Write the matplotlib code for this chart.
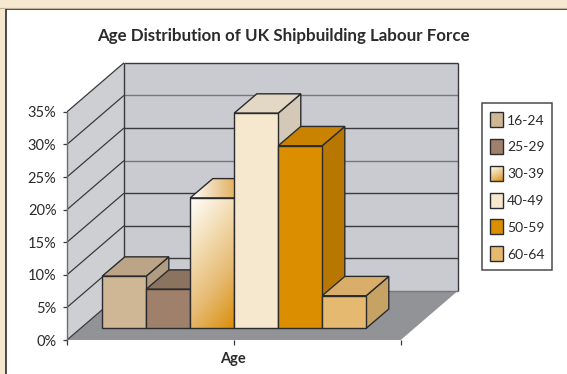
import numpy as np
import matplotlib
matplotlib.use("Agg")
import matplotlib.pyplot as plt
from matplotlib.patches import Polygon, Rectangle
from matplotlib.colors import LinearSegmentedColormap

plt.rcParams['font.family'] = ['Lato', 'DejaVu Sans']

title = "Age Distribution of UK Shipbuilding Labour Force"
xlabel = "Age"
categories = ["16-24", "25-29", "30-39", "40-49", "50-59", "60-64"]
values = [8, 6, 20, 33, 28, 5]
yticks = [0, 5, 10, 15, 20, 25, 30, 35]
front = ["#CFB695", "#9F806B", None, "#F5E8CF", "#DB8F00", "#E6B970"]
top = ["#BBA586", "#8B7360", None, "#E3D8C3", "#C98300", "#D9AE6A"]
side = ["#B09C80", "#7F6857", None, "#D3C9B6", "#B87700", "#C7A265"]
grid_cols = ["#77787B", "#3A3A3C", "#3A3A3C", "#3A3A3C", "#77787B", "#3A3A3C", "#77787B", "#3A3A3C"]

# geometry (pixels)
X0, X1, Y0 = 67.0, 400.7, 340.0
DX, DY = 57.0, 49.0
PX = 32.6 / 5
BAR0, BARW, BAR_BASE = 102.2, 44.0, 328.3
BDX, BDY = 22.6, 19.3

fig = plt.figure(figsize=(5.67, 3.74), dpi=100, facecolor="#F5E8CF")
ax = fig.add_axes([0, 0, 1, 1])
ax.set_axis_off()

def poly(pts, fc, ec="#2B2B2D", lw=1.0, z=2):
    p = Polygon(pts, closed=True, facecolor=fc, edgecolor=ec, linewidth=lw, zorder=z, joinstyle="miter")
    ax.add_patch(p)
    return p

def line(xs, ys, c="#3A3A3C", lw=1.0, z=1.5):
    ax.plot(xs, ys, color=c, lw=lw, zorder=z, solid_capstyle="butt")

def y_of(v):
    return Y0 - v * PX

# panel
ax.add_patch(Rectangle((6, 9), 570, 380, facecolor="white", edgecolor="#2B2B2D", lw=1.2, zorder=0))
ax.plot([0, 567], [8.2, 8.2], color="#BFB29A", lw=0.8, zorder=0)

# walls
vmax = yticks[-1]
poly([(X0 + DX, y_of(0) - DY), (X1 + DX, y_of(0) - DY), (X1 + DX, y_of(vmax) - DY), (X0 + DX, y_of(vmax) - DY)],
     "#C9CBD0", ec="none", z=1)
poly([(X0, y_of(0)), (X0 + DX, y_of(0) - DY), (X0 + DX, y_of(vmax) - DY), (X0, y_of(vmax))],
     "#CDCFD3", ec="none", z=1)
poly([(X0, y_of(0)), (X1, y_of(0)), (X1 + DX, y_of(0) - DY), (X0 + DX, y_of(0) - DY)],
     "#929397", ec="none", z=1.2)
for t, c in zip(yticks, grid_cols):
    y = y_of(t)
    line([X0 + DX, X1 + DX], [y - DY, y - DY], c=c)
    line([X0, X0 + DX], [y, y - DY], c="#3A3A3C", lw=0.9)
    line([X0 - 4, X0], [y, y], c="#3A3A3C", lw=0.9)
    ax.text(56.5, y + 1.6, f"{t}%", ha="right", va="center", fontsize=10.5, color="#2B2B2D")
line([X0, X0], [y_of(0) + 1, y_of(vmax)], c="#6D6E70")
line([X0 + DX, X0 + DX], [y_of(0) - DY, y_of(vmax) - DY], c="#3A3A3C")
line([X1 + DX, X1 + DX], [y_of(0) - DY, y_of(vmax) - DY], c="#3A3A3C")
for x in [X0, (X0 + X1) / 2, X1]:
    line([x, x], [Y0, Y0 + 4.7], c="#3A3A3C", lw=0.9)

# gradient helper
cm_front = LinearSegmentedColormap.from_list("f", ["#FFFFFF", "#F3DDB4", "#E6B970", "#D98F0A"])
cm_top = LinearSegmentedColormap.from_list("t", ["#FFFFFF", "#E9C48A", "#D9920F"])

def gradient(pts, cmap, z, diag=True):
    pts = np.array(pts)
    xa, xb, ya, yb = pts[:, 0].min(), pts[:, 0].max(), pts[:, 1].min(), pts[:, 1].max()
    u, w = np.meshgrid(np.linspace(0, 1, 128), np.linspace(0, 1, 128))
    g = 0.3 * u + 0.7 * w if diag else u
    im = ax.imshow(g, extent=(xa, xb, yb, ya), cmap=cmap, vmin=0, vmax=1, aspect="auto", zorder=z, interpolation="bilinear")
    clip = Polygon(pts, closed=True, transform=ax.transData)
    im.set_clip_path(clip)

# bars
for i, (v, f, t, s) in enumerate(zip(values, front, top, side)):
    xl = BAR0 + i * BARW
    xr = xl + BARW
    yt = BAR_BASE - v * PX
    z = 3 + i
    fr = [(xl, BAR_BASE), (xr, BAR_BASE), (xr, yt), (xl, yt)]
    tp = [(xl, yt), (xr, yt), (xr + BDX, yt - BDY), (xl + BDX, yt - BDY)]
    sd = [(xr, BAR_BASE), (xr + BDX, BAR_BASE - BDY), (xr + BDX, yt - BDY), (xr, yt)]
    if f is None:
        poly(sd, "#C98C20", z=z)
        poly(tp, "none", z=z + 0.2)
        gradient(tp, cm_top, z + 0.1, diag=False)
        gradient(fr, cm_front, z + 0.1)
        poly(fr, "none", z=z + 0.2)
    else:
        poly(sd, s, z=z)
        poly(tp, t, z=z)
        poly(fr, f, z=z)

# legend
ax.add_patch(Rectangle((482, 103), 70.3, 167.3, facecolor="white", edgecolor="#4A4A4C", lw=1.1, zorder=2))
for i, (c, f) in enumerate(zip(categories, front)):
    y = 112 + i * 26.85
    r = [(490, y), (503, y), (503, y + 15), (490, y + 15)]
    if f is None:
        gradient(r, cm_front, 3)
        poly(r, "none", z=3.1)
    else:
        poly(r, f, z=3)
    ax.text(507, y + 8.5, c, ha="left", va="center", fontsize=10, color="#2B2B2D")

ax.text(283, 36, title, ha="center", va="center", fontsize=12.2, fontweight="bold", color="#2B2B2D")
ax.text(232.5, 358.5, xlabel, ha="center", va="center", fontsize=10.5, fontweight="bold", color="#2B2B2D")

ax.set_xlim(0, 567)
ax.set_ylim(374, 0)
fig.savefig("out.png", dpi=100, facecolor=fig.get_facecolor())
